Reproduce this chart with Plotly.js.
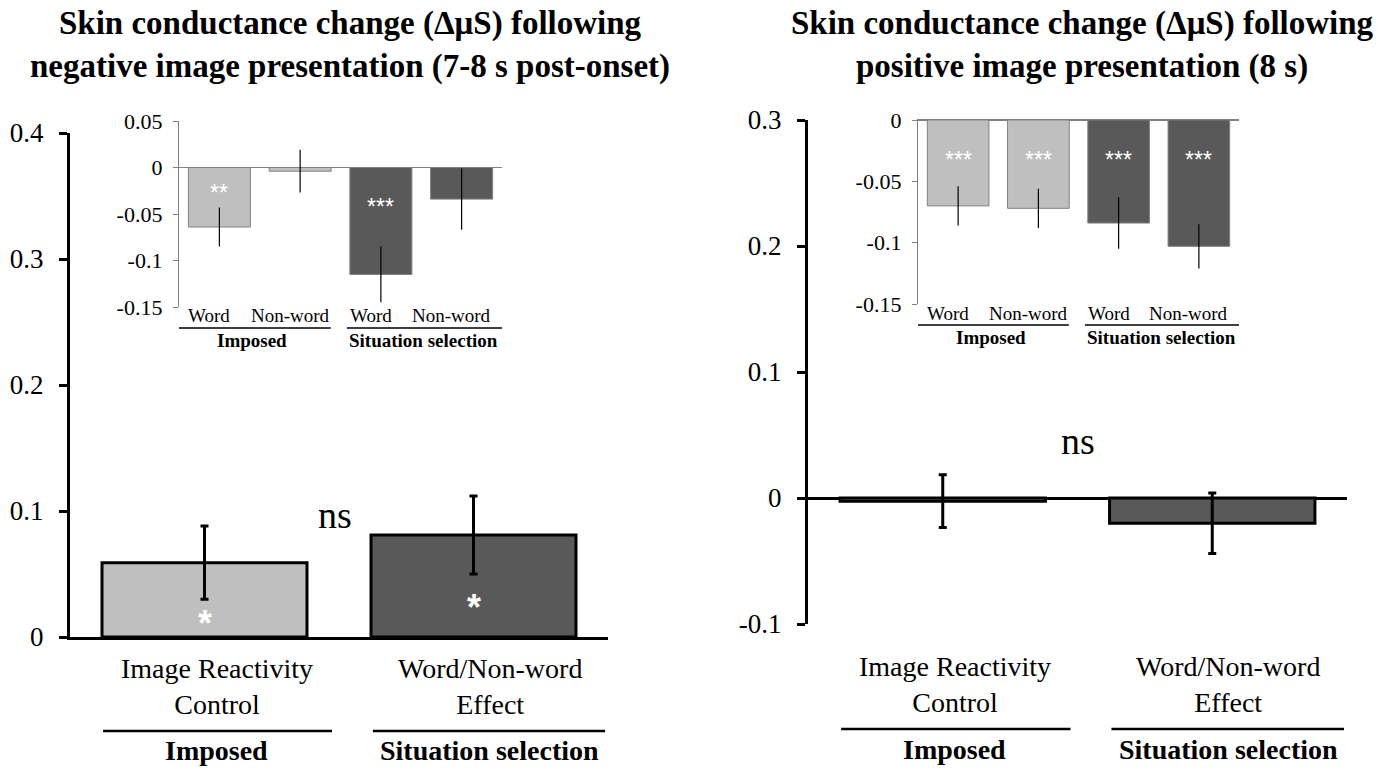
<!DOCTYPE html>
<html>
<head>
<meta charset="utf-8">
<script src="https://cdn.plot.ly/plotly-3.0.1.min.js"></script>
<style>
  html, body { margin: 0; padding: 0; background: #ffffff; }
  #chart { width: 1392px; height: 769px; }
</style>
</head>
<body>
<div id="chart"></div>
<script>
// ---- Data ----
const titles = [
  'Skin conductance change (ΔμS) following<br>negative image presentation (7-8 s post-onset)',
  'Skin conductance change (ΔμS) following<br>positive image presentation (8 s)'
];
const groupNames = ['Imposed', 'Situation selection'];
const mainCategories = ['Image Reactivity<br>Control', 'Word/Non-word<br>Effect'];
const insetCategories = ['Word', 'Non-word', 'Word', 'Non-word'];

// Main panels: mean change and error
const negMain = [0.059, 0.081];
const negMainErr = [0.029, 0.031];
const posMain = [-0.0025, -0.020];
const posMainErr = [0.021, 0.024];

// Inset panels: Word / Non-word by group
const negInset = [-0.064, -0.004, -0.115, -0.034];
const negInsetErr = [0.021, 0.023, 0.030, 0.033];
const posInset = [-0.070, -0.072, -0.084, -0.103];
const posInsetErr = [0.016, 0.016, 0.021, 0.018];

// Significance markers
const negMainStars = ['*', '*'];
const negInsetStars = ['**', '', '***', ''];
const posInsetStars = ['***', '***', '***', '***'];
const comparisonLabel = 'ns';

// Tick labels
const negMainTicks = [0, 0.1, 0.2, 0.3, 0.4];
const negMainTickText = ['0', '0.1', '0.2', '0.3', '0.4'];
const posMainTicks = [-0.1, 0, 0.1, 0.2, 0.3];
const posMainTickText = ['-0.1', '0', '0.1', '0.2', '0.3'];
const negInsetTicks = [-0.15, -0.1, -0.05, 0, 0.05];
const negInsetTickText = ['-0.15', '-0.1', '-0.05', '0', '0.05'];
const posInsetTicks = [-0.15, -0.1, -0.05, 0];
const posInsetTickText = ['-0.15', '-0.1', '-0.05', '0'];

// ---- Styling ----
const W = 1392, H = 769;
const px = v => v / W;
const py = v => 1 - v / H;
const LIGHT = '#BFBFBF', DARK = '#595959';
const mainColors = [LIGHT, DARK];
const insetColors = [LIGHT, LIGHT, DARK, DARK];
const SERIF = 'Liberation Serif, Times New Roman, serif';
const SANS = 'Liberation Sans, Arial, sans-serif';

function mainBar(x, y, err, xa, ya) {
  return {
    type: 'bar', x: x, y: y, xaxis: xa, yaxis: ya, width: 0.762,
    marker: { color: mainColors, line: { color: '#000000', width: 3 } },
    error_y: { type: 'data', array: err, visible: true, color: '#000000', thickness: 3, width: 4 },
    hoverinfo: 'skip'
  };
}
function insetBar(x, y, err, xa, ya) {
  return {
    type: 'bar', x: x, y: y, xaxis: xa, yaxis: ya, width: 0.768,
    marker: { color: insetColors, line: { color: '#808080', width: 1 } },
    error_y: { type: 'data', array: err, visible: true, color: '#000000', thickness: 1.2, width: 0 },
    hoverinfo: 'skip'
  };
}

const idx2 = [0, 1];
const idx4 = [0, 1, 2, 3];

const data = [
  mainBar(idx2, negMain, negMainErr, 'x', 'y'),
  mainBar(idx2, posMain, posMainErr, 'x2', 'y2'),
  insetBar(idx4, negInset, negInsetErr, 'x3', 'y3'),
  insetBar(idx4, posInset, posInsetErr, 'x4', 'y4')
];

function mainY(domain, range, tv, tt, zero) {
  return {
    domain: domain, range: range, tickvals: tv, ticktext: tt,
    showline: true, linecolor: '#000000', linewidth: 3,
    ticks: 'outside', ticklen: 8, tickwidth: 3, tickcolor: '#000000',
    ticklabelstandoff: 10,
    tickfont: { family: SERIF, size: 27, color: '#000000' },
    showgrid: false, zeroline: zero, zerolinecolor: '#000000', zerolinewidth: 3,
    fixedrange: true
  };
}
function insetY(domain, range, tv, tt, anchor) {
  return {
    domain: domain, range: range, tickvals: tv, ticktext: tt, anchor: anchor,
    showline: true, linecolor: '#808080', linewidth: 1.2,
    ticks: 'outside', ticklen: 5, tickwidth: 1, tickcolor: '#808080',
    ticklabelstandoff: 6,
    tickfont: { family: SERIF, size: 22, color: '#000000' },
    showgrid: false, zeroline: true, zerolinecolor: '#808080', zerolinewidth: 1.2,
    fixedrange: true
  };
}
function plainX(domain, range, anchor, extra) {
  return Object.assign({
    domain: domain, range: range, anchor: anchor, type: 'linear',
    showticklabels: false, ticks: '', showgrid: false, zeroline: false,
    showline: false, fixedrange: true
  }, extra || {});
}

const layout = {
  width: W, height: H,
  margin: { l: 0, r: 0, t: 0, b: 0, pad: 0 },
  paper_bgcolor: '#ffffff', plot_bgcolor: 'rgba(0,0,0,0)',
  showlegend: false, bargap: 0,
  xaxis: plainX([px(70), px(608)], [-0.5, 1.5], 'y',
    { showline: true, linecolor: '#000000', linewidth: 3 }),
  yaxis: mainY([py(637), py(133)], [0, 0.4], negMainTicks, negMainTickText, false),
  xaxis2: plainX([px(808), px(1347)], [-0.5, 1.5], 'y2'),
  yaxis2: Object.assign(mainY([py(624), py(120)], [-0.1, 0.3], posMainTicks, posMainTickText, true), { anchor: 'x2' }),
  xaxis3: plainX([px(179), px(502)], [-0.5, 3.5], 'y3'),
  yaxis3: insetY([py(307), py(121)], [-0.15, 0.05], negInsetTicks, negInsetTickText, 'x3'),
  xaxis4: plainX([px(918), px(1239)], [-0.5, 3.5], 'y4',
    { side: 'top', showline: true, linecolor: '#808080', linewidth: 1.2 }),
  yaxis4: insetY([py(304), py(120)], [-0.15, 0], posInsetTicks, posInsetTickText, 'x4'),
  annotations: [],
  shapes: []
};

const ann = layout.annotations;
const shp = layout.shapes;

// Panel titles
[350, 1082].forEach((cx, i) => {
  ann.push({ xref: 'paper', yref: 'paper', x: px(cx), y: py(45), text: '<b>' + titles[i] + '</b>',
    showarrow: false, xanchor: 'center', yanchor: 'middle',
    font: { family: SERIF, size: 33, color: '#000000' } });
});

// Main panels: category labels, group rules and group names
const mainPanels = [
  { xa: 'x', catY: 686, ruleY: 731, groupY: 750 },
  { xa: 'x2', catY: 684, ruleY: 729, groupY: 749 }
];
const mainLabelPos = [0.045, 1.06];
const mainRuleSpan = [[-0.377, 0.474], [0.626, 1.489]];
mainPanels.forEach(p => {
  mainCategories.forEach((c, i) => {
    ann.push({ xref: p.xa, yref: 'paper', x: mainLabelPos[i], y: py(p.catY), text: c,
      showarrow: false, xanchor: 'center', yanchor: 'middle',
      font: { family: SERIF, size: 28, color: '#000000' } });
    ann.push({ xref: p.xa, yref: 'paper', x: mainLabelPos[i], y: py(p.groupY), text: '<b>' + groupNames[i] + '</b>',
      showarrow: false, xanchor: 'center', yanchor: 'middle',
      font: { family: SERIF, size: 28, color: '#000000' } });
    shp.push({ type: 'line', xref: p.xa, yref: 'paper',
      x0: mainRuleSpan[i][0], x1: mainRuleSpan[i][1], y0: py(p.ruleY), y1: py(p.ruleY),
      line: { color: '#000000', width: 2.5 } });
  });
});

// Inset panels: category labels, group rules and group names
const insetPanels = [
  { xa: 'x3', catY: 315, ruleY: 328, groupY: 340 },
  { xa: 'x4', catY: 313, ruleY: 325, groupY: 337 }
];
const insetGroupPos = [0.41, 2.53];
const insetRuleSpan = [[-0.55, 1.38], [1.58, 3.52]];
insetPanels.forEach(p => {
  insetCategories.forEach((c, i) => {
    ann.push({ xref: p.xa, yref: 'paper', x: i, y: py(p.catY), xshift: -10, text: c,
      showarrow: false, xanchor: 'center', yanchor: 'middle',
      font: { family: SERIF, size: 19, color: '#000000' } });
  });
  groupNames.forEach((g, i) => {
    ann.push({ xref: p.xa, yref: 'paper', x: insetGroupPos[i], y: py(p.groupY), text: '<b>' + g + '</b>',
      showarrow: false, xanchor: 'center', yanchor: 'middle',
      font: { family: SERIF, size: 19, color: '#000000' } });
    shp.push({ type: 'line', xref: p.xa, yref: 'paper',
      x0: insetRuleSpan[i][0], x1: insetRuleSpan[i][1], y0: py(p.ruleY), y1: py(p.ruleY),
      line: { color: '#000000', width: 1.5 } });
  });
});

// Significance markers inside bars
const negMainStarY = [0.016, 0.029];
negMainStars.forEach((s, i) => {
  ann.push({ xref: 'x', yref: 'y', x: i, y: negMainStarY[i], yshift: -7, text: '<b>' + s + '</b>',
    showarrow: false, xanchor: 'center', yanchor: 'middle',
    font: { family: SANS, size: 36, color: '#ffffff' } });
});
const negInsetStarY = [-0.0215, 0, -0.0376, 0];
negInsetStars.forEach((s, i) => {
  if (!s) return;
  ann.push({ xref: 'x3', yref: 'y3', x: i, y: negInsetStarY[i], yshift: -5, text: s,
    showarrow: false, xanchor: 'center', yanchor: 'middle',
    font: { family: SANS, size: 23, color: '#ffffff' } });
});
posInsetStars.forEach((s, i) => {
  ann.push({ xref: 'x4', yref: 'y4', x: i, y: -0.0284, yshift: -5, text: s,
    showarrow: false, xanchor: 'center', yanchor: 'middle',
    font: { family: SANS, size: 23, color: '#ffffff' } });
});

// Between-condition comparison
ann.push({ xref: 'x', yref: 'y', x: 0.485, y: 0.097, text: comparisonLabel, showarrow: false,
  xanchor: 'center', yanchor: 'middle', font: { family: SERIF, size: 38, color: '#000000' } });
ann.push({ xref: 'x2', yref: 'y2', x: 0.5, y: 0.045, text: comparisonLabel, showarrow: false,
  xanchor: 'center', yanchor: 'middle', font: { family: SERIF, size: 38, color: '#000000' } });

Plotly.newPlot('chart', data, layout, { staticPlot: true, displayModeBar: false });
</script>
</body>
</html>
